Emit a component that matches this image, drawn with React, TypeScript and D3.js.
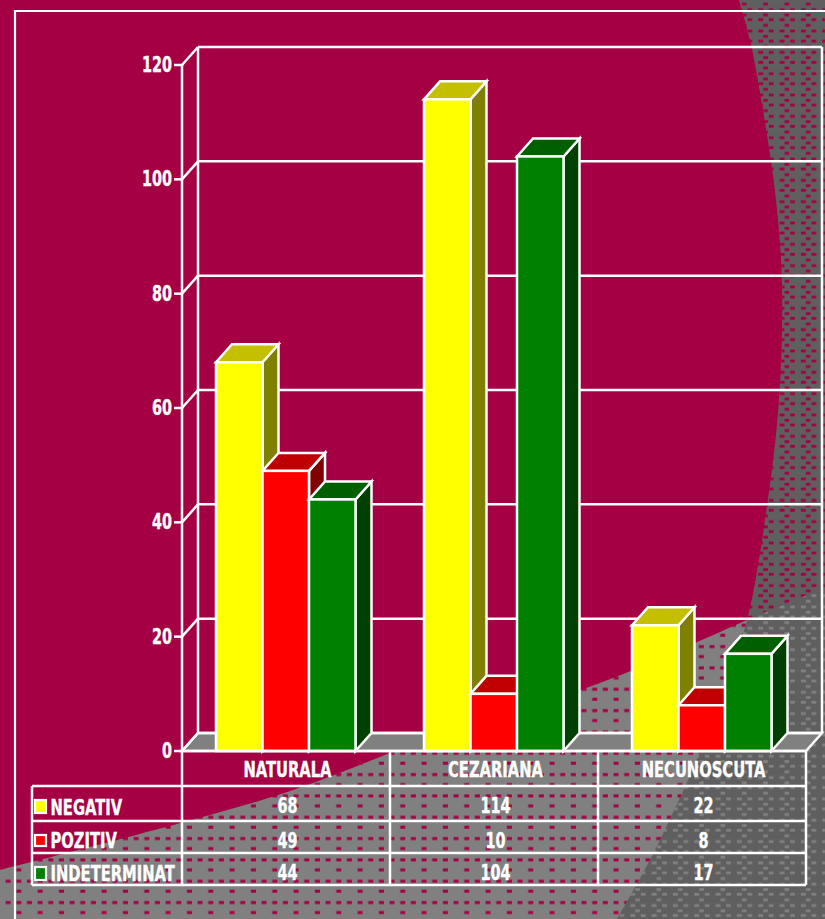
import React from "react";
import * as d3 from "d3";

// Chart data
const categories = ["NATURALA", "CEZARIANA", "NECUNOSCUTA"];
const seriesNames = ["NEGATIV", "POZITIV", "INDETERMINAT"];
const negativ = [68, 114, 22];
const pozitiv = [49, 10, 8];
const indeterminat = [44, 104, 17];
const yTicks = [0, 20, 40, 60, 80, 100, 120];

// Slide backdrop outlines
const diagonalEdge: [number, number][] = [
  [0, 870], [278, 795], [430, 738], [600, 683], [695, 643], [747, 620], [778, 607], [825, 588],
];
const arcEdge: [number, number][] = [
  [739, 0], [750, 40], [763, 110], [776, 200], [782, 285], [779, 400], [765, 520],
  [747, 620], [720, 700], [688, 780], [668, 823], [650, 860], [617, 919],
];

const W = 825;
const H = 919;
const CRIMSON = "#A50044";
const GRAY = "#808080";
const DARK = "#5F5F5F";
const WHITE = "#FFFFFF";
const LINE = 2.5;

const faces = [
  { front: "#FFFF00", top: "#C4C000", side: "#808000" },
  { front: "#FF0000", top: "#C00000", side: "#800000" },
  { front: "#008000", top: "#006000", side: "#004000" },
];

// Chart geometry
const DX = 16;
const DY = 18;
const x0 = 182;
const x1 = 806;
const yBase = 751;
const yTop = 65;

const y = d3.scaleLinear().domain([0, 120]).range([yBase, yTop]);
const xCat = d3.scaleBand<string>().domain(categories).range([x0, x1]);
const xSeries = d3.scaleBand<string>().domain(seriesNames).range([34, 173.5]);

const smooth = d3.line().curve(d3.curveCatmullRom);
const diagonalPath = smooth(diagonalEdge) as string;
const arcPath = smooth(arcEdge) as string;
const belowDiagonal = `${diagonalPath}L${W},${H}L0,${H}Z`;
const aboveDiagonal = `${diagonalPath}L${W},0L0,0Z`;
const darkRegion = `${arcPath}L${W},${H}L${W},0Z`;

const FONT = "'DejaVu Sans Condensed', 'DejaVu Sans', sans-serif";
const poly = (pts: number[][]) => pts.map((p) => p.join(",")).join(" ");

function Label({ x, y: yy, text, anchor = "middle", sx = 0.8 }: { x: number; y: number; text: string; anchor?: string; sx?: number }) {
  return (
    <text
      transform={`translate(${x},${yy}) scale(${sx},1)`}
      textAnchor={anchor}
      fontFamily={FONT}
      fontWeight="bold"
      fontSize={20.5}
      fill={WHITE}
      stroke={WHITE}
      strokeWidth={0.35}
    >
      {text}
    </text>
  );
}

// Fine dash tiles used across the gray and dark parts of the backdrop
function GrayTile({ id, color }: { id: string; color: string }) {
  return (
    <pattern id={id} patternUnits="userSpaceOnUse" width={21.33} height={21.33}>
      <rect width={21.33} height={21.33} fill={GRAY} />
      <rect x={5.6} y={5.2} width={5} height={3} fill={color} />
      <rect x={16.3} y={5.2} width={5} height={3} fill={color} />
      <rect x={16.3} y={15.2} width={5} height={3} fill={color} />
    </pattern>
  );
}

function DarkTile({ id, color }: { id: string; color: string }) {
  return (
    <pattern id={id} patternUnits="userSpaceOnUse" width={21.33} height={21.33}>
      <rect width={21.33} height={21.33} fill={DARK} />
      <rect x={1} y={8.3} width={4.7} height={2.8} fill={color} />
      <rect x={11.7} y={8.3} width={5} height={2.8} fill={color} />
      <rect x={1} y={18.3} width={4.7} height={2.8} fill={color} />
      <rect x={11.7} y={18.3} width={5} height={2.8} fill={color} />
      <rect x={16.7} y={2.6} width={4.6} height={2.8} fill={color} />
      <rect x={16.7} y={13.6} width={4.6} height={2.8} fill={color} />
    </pattern>
  );
}

export default function App() {
  const series = [negativ, pozitiv, indeterminat];
  const backRight = x1 + DX;
  const tableRows = [786, 821, 853, 885];
  const labelBase = [815, 848, 881];
  const valueBase = [813, 848, 880];
  const keyBox = [
    { y: 800, h: 13 },
    { y: 835, h: 11 },
    { y: 867, h: 13 },
  ];
  const colEdges = [x0, ...categories.map((c) => (xCat(c) as number) + xCat.bandwidth())];

  return (
    <svg width={W} height={H} style={{ position: "absolute", left: 0, top: 0, display: "block" }}>
      <defs>
        <GrayTile id="grayDash" color={CRIMSON} />
        <DarkTile id="darkCrimson" color={CRIMSON} />
        <DarkTile id="darkLight" color={GRAY} />
        <clipPath id="clipAbove"><path d={aboveDiagonal} /></clipPath>
        <clipPath id="clipBelow"><path d={belowDiagonal} /></clipPath>
      </defs>

      {/* Backdrop */}
      <rect width={W} height={H} fill={CRIMSON} />
      <path d={belowDiagonal} fill="url(#grayDash)" />
      <path d={darkRegion} fill="url(#darkCrimson)" clipPath="url(#clipAbove)" />
      <path d={darkRegion} fill="url(#darkLight)" clipPath="url(#clipBelow)" />

      {/* Slide frame */}
      <path d={`M15,${H}V11H${W}`} fill="none" stroke={WHITE} strokeWidth={2.2} />

      {/* Floor */}
      <polygon
        points={poly([[x0, yBase], [x0 + DX, yBase - DY], [backRight, yBase - DY], [x1, yBase]])}
        fill={GRAY}
        stroke={WHITE}
        strokeWidth={LINE}
      />

      {/* Walls, gridlines and value axis */}
      <g stroke={WHITE} strokeWidth={LINE} fill="none">
        <line x1={x0} x2={x0} y1={y(120)} y2={yBase} />
        <line x1={x0 + DX} x2={x0 + DX} y1={y(120) - DY} y2={yBase - DY} />
        <line x1={backRight} x2={backRight} y1={y(120) - DY} y2={yBase - DY} />
        {yTicks.map((t) => (
          <g key={t}>
            <line x1={x0 - 8} x2={x0} y1={y(t)} y2={y(t)} />
            <line x1={x0} x2={x0 + DX} y1={y(t)} y2={y(t) - DY} />
            <line x1={x0 + DX} x2={backRight} y1={y(t) - DY} y2={y(t) - DY} />
          </g>
        ))}
      </g>
      {yTicks.map((t) => (
        <Label key={t} x={172} y={y(t) + 7} text={String(t)} anchor="end" sx={0.78} />
      ))}

      {/* Bars */}
      {categories.map((c, ci) =>
        seriesNames.map((s, si) => {
          const left = (xCat(c) as number) + (xSeries(s) as number);
          const right = left + xSeries.bandwidth();
          const top = y(series[si][ci]);
          const f = faces[si];
          return (
            <g key={c + s} stroke={WHITE} strokeWidth={LINE} strokeLinejoin="miter">
              <polygon points={poly([[right, top], [right + DX, top - DY], [right + DX, yBase - DY], [right, yBase]])} fill={f.side} />
              <polygon points={poly([[left, top], [left + DX, top - DY], [right + DX, top - DY], [right, top]])} fill={f.top} />
              <rect x={left} y={top} width={right - left} height={yBase - top} fill={f.front} />
            </g>
          );
        })
      )}

      {/* Data table */}
      <g stroke={WHITE} strokeWidth={LINE} fill="none">
        <line x1={x0} x2={x1} y1={yBase} y2={yBase} />
        <line x1={32} x2={x1} y1={tableRows[0]} y2={tableRows[0]} />
        <line x1={32} x2={x1} y1={tableRows[1]} y2={tableRows[1]} />
        <line x1={32} x2={x1} y1={tableRows[2]} y2={tableRows[2]} />
        <line x1={32} x2={x1} y1={tableRows[3]} y2={tableRows[3]} />
        <line x1={32} x2={32} y1={tableRows[0]} y2={tableRows[3]} />
        {colEdges.map((e) => (
          <line key={e} x1={e} x2={e} y1={yBase} y2={tableRows[3]} />
        ))}
      </g>
      {categories.map((c) => (
        <Label key={c} x={(xCat(c) as number) + xCat.bandwidth() / 2 + 1.5} y={777} text={c} />
      ))}
      {seriesNames.map((s, si) => (
        <g key={s}>
          <rect x={35} y={keyBox[si].y} width={11} height={keyBox[si].h} fill={faces[si].front} stroke={WHITE} strokeWidth={2.2} />
          <Label x={50.5} y={labelBase[si]} text={s} anchor="start" />
          {categories.map((c, ci) => (
            <Label
              key={c}
              x={(xCat(c) as number) + xCat.bandwidth() / 2 + 1.5}
              y={valueBase[si]}
              text={String(series[si][ci])}
              sx={0.78}
            />
          ))}
        </g>
      ))}
    </svg>
  );
}
